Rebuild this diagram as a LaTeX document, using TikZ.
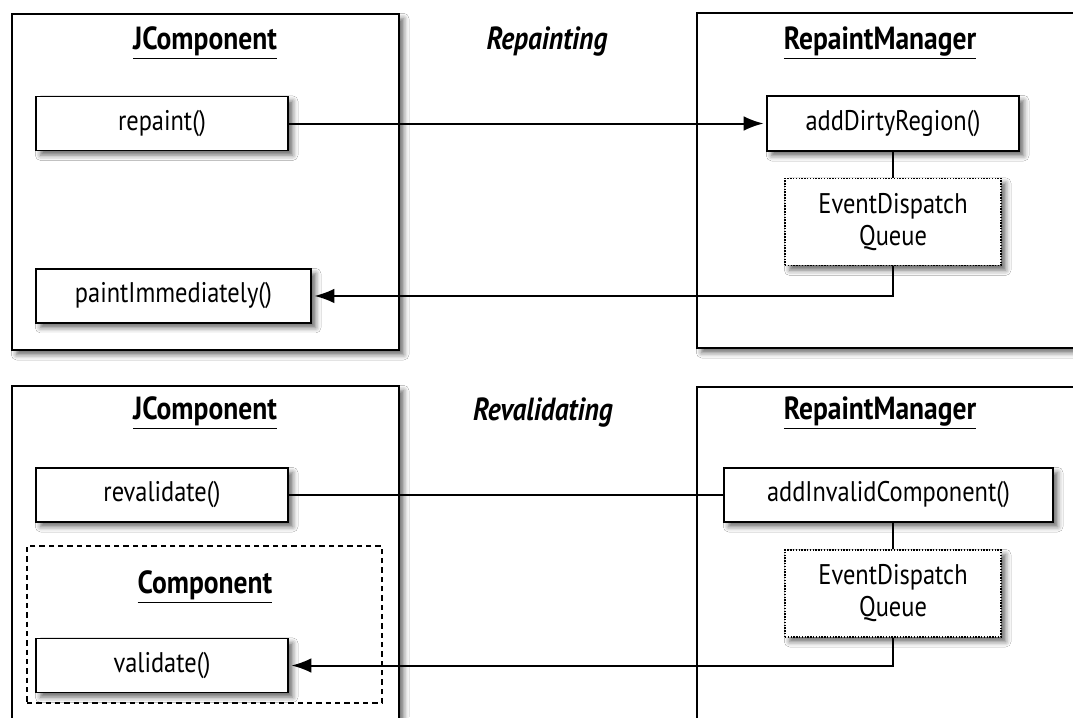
\documentclass[tikz,border=0pt]{standalone}
\usepackage{fontspec}
\setmainfont{PT Sans}[FakeStretch=0.86]
\usetikzlibrary{arrows.meta, positioning, shadows.blur}

\newcommand{\methodfont}{\fontsize{21.3}{24}\selectfont}
\newcommand{\headfont}{\fontsize{24}{27}\selectfont\bfseries}

\begin{document}
\begin{tikzpicture}[
  x=0.75pt, y=-0.75pt,
  shade/.style={blur shadow={shadow xshift=3.5pt, shadow yshift=-3.5pt,
                shadow blur radius=4pt, shadow opacity=60}},
  panel/.style={draw, line width=1.1pt, fill=white, shade, inner sep=0pt},
  method/.style={draw, line width=1.1pt, fill=white, shade, inner sep=0pt,
                 minimum width=189pt, minimum height=40.5pt, font=\methodfont},
  queue/.style={method, densely dotted, minimum width=162pt,
                minimum height=65.25pt, align=center},
  group/.style={draw, line width=1pt, dash pattern=on 4pt off 3pt,
                inner sep=0pt, minimum width=266.25pt, minimum height=117.75pt},
  heading/.style={font=\headfont},
  arr/.style={-{Latex[length=15pt, width=11pt]}, line width=1.5pt, shorten >=2pt},
  link/.style={line width=1.5pt}
]
  \clip (0,0) rectangle (1073,717);
  \fill[white] (0,0) rectangle (1073,717);

  % Repainting
  \node[panel, minimum width=290.25pt, minimum height=252pt] (jcA) at (205.5,182) {};
  \node[panel, minimum width=302.25pt, minimum height=251.25pt] (rmA) at (898.5,180.5) {};
  \node[heading] (jcAt) at (205,43) {\underline{JComponent}};
  \node[heading] (rmAt) at (880,43) {\underline{RepaintManager}};
  \node[heading, font=\headfont\itshape] (modeA) at (547,42) {Repainting};

  \node[method] (repaint) at (162,123.5) {repaint()};
  \node[method, minimum width=206.25pt, below=87.75pt of repaint.south west,
        anchor=north west] (paint) {paintImmediately()};
  \node[method, minimum height=41.25pt] (dirty) at (893,123.5) {addDirtyRegion()};
  \node[queue, below=19.5pt of dirty] (edqA) {EventDispatch\\Queue};

  \draw[arr] (repaint) -- (dirty);
  \draw[link] (dirty) -- (edqA);
  \draw[arr] (edqA) |- (paint);

  % Revalidating
  \node[panel, minimum width=290.25pt, minimum height=280.5pt] (jcB) at (205.5,573) {};
  \node[panel, minimum width=302.25pt, minimum height=279.75pt] (rmB) at (898.5,573.5) {};
  \node[heading] (jcBt) at (205,413) {\underline{JComponent}};
  \node[heading] (rmBt) at (880,413) {\underline{RepaintManager}};
  \node[heading, font=\headfont\itshape] (modeB) at (543,413) {Revalidating};

  \node[group] (comp) at (204.5,624.5) {};
  \node[heading] (compt) at (205,587) {\underline{Component}};

  \node[method] (reval) at (162,495) {revalidate()};
  \node[method] (valid) at (162,665.5) {validate()};
  \node[method, minimum width=246.75pt] (inval) at (888.5,495) {addInvalidComponent()};
  \node[queue] (edqB) at (893,593.5) {EventDispatch\\Queue};

  \draw[link] (reval) -- (inval);
  \draw[link] (edqB) -- (edqB |- inval.south);
  \draw[arr] (edqB) |- (valid);
\end{tikzpicture}
\end{document}
